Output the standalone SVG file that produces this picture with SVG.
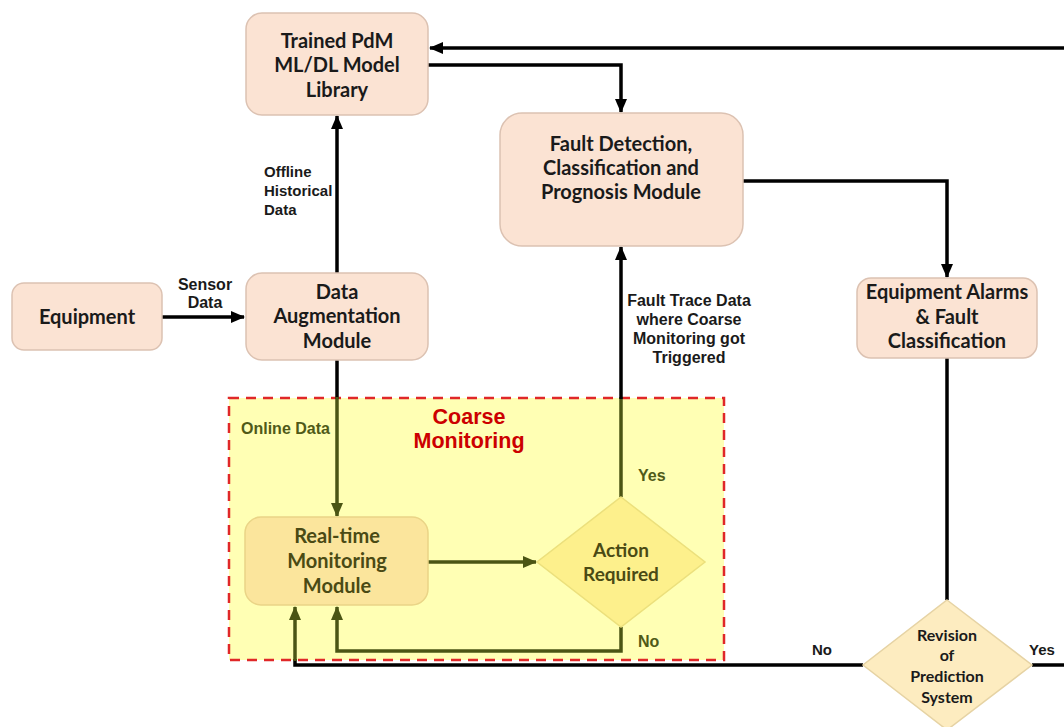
<svg xmlns="http://www.w3.org/2000/svg" width="1064" height="727" viewBox="0 0 1064 727">
<defs>
<marker id="ab" markerUnits="userSpaceOnUse" markerWidth="14" markerHeight="12" refX="13" refY="6" orient="auto"><path d="M0,0 L14,6 L0,12 Z" fill="#000"/></marker>
<marker id="ao" markerUnits="userSpaceOnUse" markerWidth="14" markerHeight="12" refX="13" refY="6" orient="auto"><path d="M0,0 L14,6 L0,12 Z" fill="#4b5514"/></marker>
</defs>
<style>
.box{fill:#fbe3d3;stroke:#dcc2b2;stroke-width:1.5}
.bt{font-family:Lato,"Open Sans",sans-serif;font-weight:bold;font-size:20px;fill:#1a1a1a;text-anchor:middle}
.lbl{font-family:"Liberation Sans",Arial,sans-serif;font-weight:bold;font-size:15px;fill:#1a1a1a}
.lbl.big{font-size:16px}
.ol{font-family:"Liberation Sans",Arial,sans-serif;font-weight:bold;font-size:16px;fill:#4f5a18}
.lb{fill:none;stroke:#000;stroke-width:3.5}
.lo{fill:none;stroke:#4b5514;stroke-width:3.5}
.ot{font-family:Lato,"Open Sans",sans-serif;font-weight:bold;font-size:20px;fill:#4a4a14;text-anchor:middle}
.ot.md{font-size:19px}
.bt.sm{font-size:16px}
</style>
<rect width="1064" height="727" fill="#fff"/>
<g id="coarse-monitoring">
<rect x="229" y="398" width="495" height="262" fill="#ffffb4" stroke="#e02828" stroke-width="2.5" stroke-dasharray="10,7"/>
<text x="469" y="424" text-anchor="middle" font-family="Liberation Sans,Arial,sans-serif" font-weight="bold" font-size="21.5" fill="#cc0000">Coarse</text>
<text x="469" y="448" text-anchor="middle" font-family="Liberation Sans,Arial,sans-serif" font-weight="bold" font-size="21.5" fill="#cc0000">Monitoring</text>
</g>
<g id="connectors">
<path class="lb" d="M162,317 H244" marker-end="url(#ab)"/>
<path class="lb" d="M337,273 V116" marker-end="url(#ab)"/>
<path class="lb" d="M428,65 H621 V112" marker-end="url(#ab)"/>
<path class="lb" d="M1064,48 H430" marker-end="url(#ab)"/>
<path class="lb" d="M743,181 H947 V277" marker-end="url(#ab)"/>
<path class="lb" d="M947,358 V600"/>
<path class="lb" d="M1032,665 H1064"/>
<path class="lb" d="M863,665 H295 V659"/>
<path class="lo" d="M295,661 V607" marker-end="url(#ao)"/>
<path class="lb" d="M337,360 V399"/>
<path class="lo" d="M337,397 V516" marker-end="url(#ao)"/>
<path class="lo" d="M428,562 H536" marker-end="url(#ao)"/>
<path class="lo" d="M621,497 V397"/>
<path class="lb" d="M621,399 V247" marker-end="url(#ab)"/>
<path class="lo" d="M621,627 V651 H337 V607" marker-end="url(#ao)"/>
<text class="lbl big" x="205" y="290" text-anchor="middle">Sensor</text>
<text class="lbl big" x="205" y="308" text-anchor="middle">Data</text>
<text class="lbl" x="264" y="177">Offline</text>
<text class="lbl" x="264" y="196">Historical</text>
<text class="lbl" x="264" y="215">Data</text>
<text class="lbl big" x="689" y="306" text-anchor="middle">Fault Trace Data</text>
<text class="lbl big" x="689" y="325" text-anchor="middle">where Coarse</text>
<text class="lbl big" x="689" y="344" text-anchor="middle">Monitoring got</text>
<text class="lbl big" x="689" y="363" text-anchor="middle">Triggered</text>
<text class="ol" x="241" y="434">Online Data</text>
<text class="ol" x="638" y="481">Yes</text>
<text class="ol" x="638" y="647">No</text>
<text class="lbl" x="812" y="655">No</text>
<text class="lbl" x="1029" y="655">Yes</text>
</g>
<g id="trained-library">
<rect class="box" x="246" y="13" width="182" height="102" rx="16"/>
<text class="bt" x="337" y="48">Trained PdM</text>
<text class="bt" x="337" y="72">ML/DL Model</text>
<text class="bt" x="337" y="97">Library</text>
</g>
<g id="fault-detection">
<rect class="box" x="500" y="113" width="243" height="133" rx="22"/>
<text class="bt" x="621" y="151">Fault Detection,</text>
<text class="bt" x="621" y="175">Classification and</text>
<text class="bt" x="621" y="199">Prognosis Module</text>
</g>
<g id="equipment">
<rect class="box" x="12" y="283" width="150" height="67" rx="12"/>
<text class="bt" x="87" y="324">Equipment</text>
</g>
<g id="data-augmentation">
<rect class="box" x="246" y="273" width="182" height="87" rx="16"/>
<text class="bt" x="337" y="299">Data</text>
<text class="bt" x="337" y="323">Augmentation</text>
<text class="bt" x="337" y="348">Module</text>
</g>
<g id="equipment-alarms">
<rect class="box" x="857" y="278" width="180" height="80" rx="14"/>
<text class="bt" x="947" y="299">Equipment Alarms</text>
<text class="bt" x="947" y="324">&amp; Fault</text>
<text class="bt" x="947" y="348">Classification</text>
</g>
<g id="realtime-monitoring">
<rect x="245" y="517" width="183" height="88" rx="16" fill="#fbe59c" stroke="#ead487" stroke-width="1.5"/>
<text class="ot" x="337" y="543">Real-time</text>
<text class="ot" x="337" y="568">Monitoring</text>
<text class="ot" x="337" y="593">Module</text>
</g>
<g id="action-required">
<path d="M621,497 L705,562 L621,627 L537,562 Z" fill="#fdf08c" stroke="#ece07c" stroke-width="1.5"/>
<text class="ot md" x="621" y="557">Action</text>
<text class="ot md" x="621" y="581">Required</text>
</g>
<g id="revision">
<path d="M947,600 L1032,665 L947,730 L863,665 Z" fill="#fdecc0" stroke="#e6d3a4" stroke-width="1.5"/>
<text class="bt sm" x="947" y="641">Revision</text>
<text class="bt sm" x="947" y="661">of</text>
<text class="bt sm" x="947" y="682">Prediction</text>
<text class="bt sm" x="947" y="703">System</text>
</g>
</svg>
